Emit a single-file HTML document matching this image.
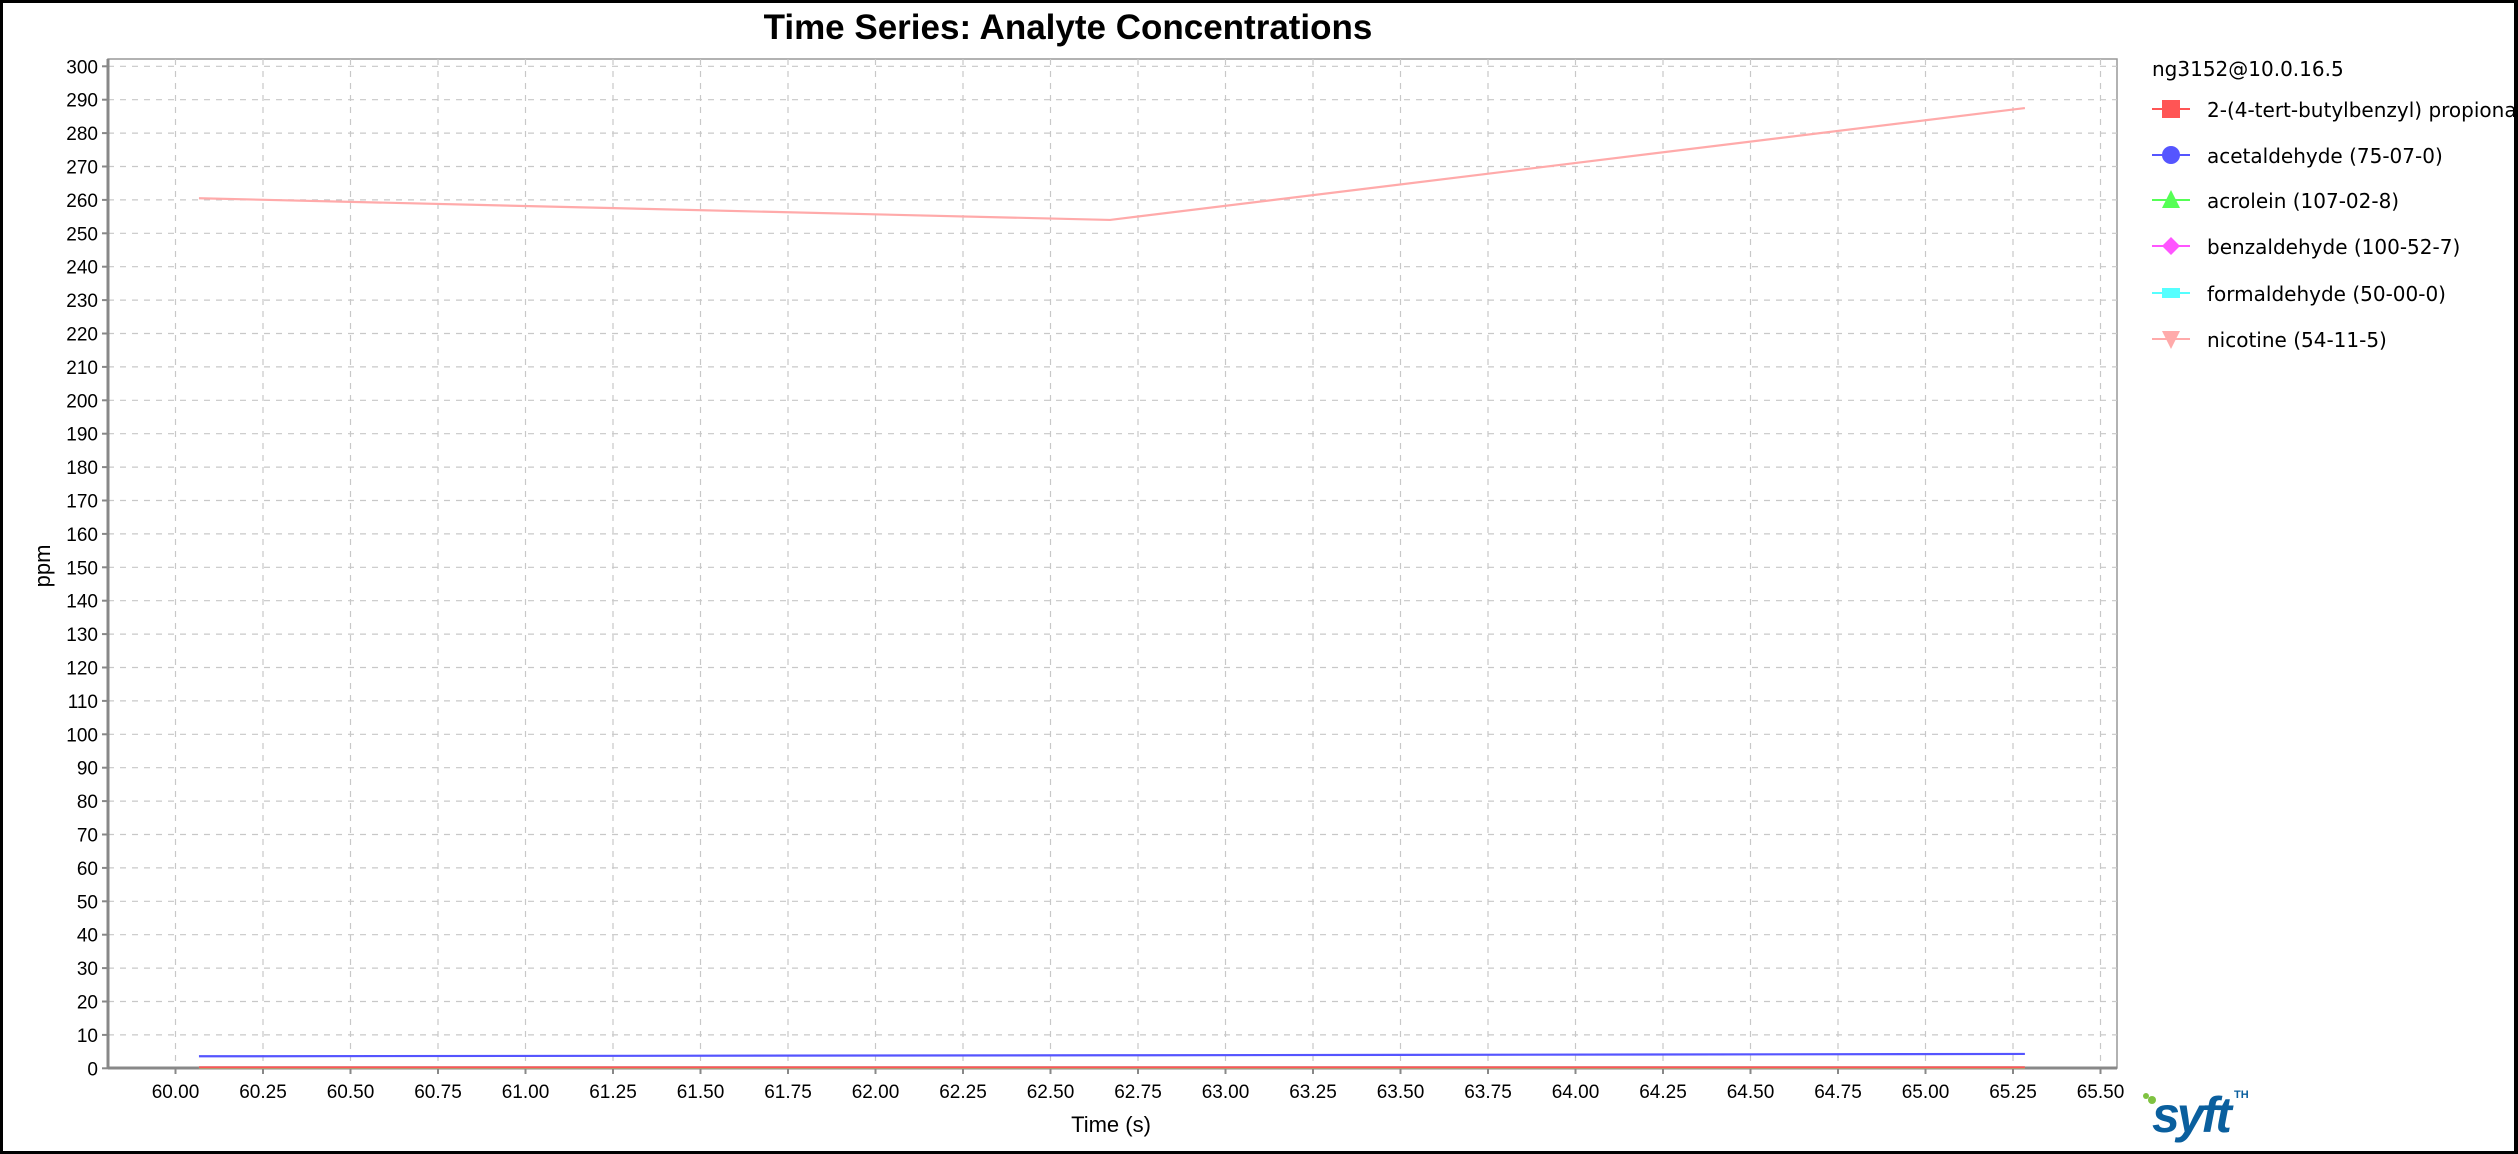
<!DOCTYPE html>
<html><head><meta charset="utf-8"><style>
html,body{margin:0;padding:0;background:#fff;}
svg{display:block;}
text{font-family:"Liberation Sans",sans-serif;}
.leg{font-family:"DejaVu Sans","Liberation Sans",sans-serif;font-size:20px;}
</style></head><body>
<svg id="chart" width="2518" height="1154" xmlns="http://www.w3.org/2000/svg">
<rect x="1.5" y="1.5" width="2514" height="1151" fill="#fff" stroke="#000" stroke-width="3"/>
<text x="1068" y="39" text-anchor="middle" font-size="35" font-weight="bold">Time Series: Analyte Concentrations</text>
<g id="grid"></g>
<g id="axes"></g>
<g id="series"></g>
<text x="0" y="0" transform="translate(50,566) rotate(-90)" text-anchor="middle" font-size="22">ppm</text>
<text x="1111" y="1132" text-anchor="middle" font-size="22">Time (s)</text>
<g id="legend">
<text class="leg" x="2152" y="76">ng3152@10.0.16.5</text>
</g>
<g>
<circle cx="2146" cy="1096" r="3" fill="#7fc241"/><circle cx="2152" cy="1100" r="4" fill="#7fc241"/>
<text x="2152" y="1132" font-size="50" font-weight="bold" font-style="italic" fill="#0a5f9e" letter-spacing="-3">syft</text>
<text x="2234" y="1098" font-size="11" font-weight="bold" fill="#0a5f9e">TH</text>
</g>
</svg>
<script>
const xTicks = [60.00,60.25,60.50,60.75,61.00,61.25,61.50,61.75,62.00,62.25,62.50,62.75,63.00,63.25,63.50,63.75,64.00,64.25,64.50,64.75,65.00,65.25,65.50];
const yTicks = [0,10,20,30,40,50,60,70,80,90,100,110,120,130,140,150,160,170,180,190,200,210,220,230,240,250,260,270,280,290,300];
const times = [60.067, 62.67, 65.284];
const seriesNames = ["2-(4-tert-butylbenzyl) propionaldehyde","acetaldehyde (75-07-0)","acrolein (107-02-8)","benzaldehyde (100-52-7)","formaldehyde (50-00-0)","nicotine (54-11-5)"];
const seriesColors = ["#ff5555","#5555ff","#55ff55","#ff55ff","#55ffff","#ffaaaa"];
const propionalValues = [0.3, 0.3, 0.3];
const acetaldehydeValues = [3.6, 3.9, 4.3];
const acroleinValues = [0.2, 0.2, 0.2];
const benzaldehydeValues = [0.2, 0.2, 0.2];
const formaldehydeValues = [0.3, 0.3, 0.3];
const nicotineValues = [260.5, 254.0, 287.5];
const allValues = [propionalValues, acetaldehydeValues, acroleinValues, benzaldehydeValues, formaldehydeValues, nicotineValues];

const L=108,T=59,R=2117,B=1068;
const NS="http://www.w3.org/2000/svg";
function xs(v){return 175.5+(v-60)*350;}
function ys(v){return 1068.3-v*3.34;}
function mk(tag,attrs,parent){const e=document.createElementNS(NS,tag);for(const k in attrs)e.setAttribute(k,attrs[k]);parent.appendChild(e);return e;}
const grid=document.getElementById('grid'),axes=document.getElementById('axes'),ser=document.getElementById('series'),leg=document.getElementById('legend');
mk('rect',{x:L,y:T,width:R-L,height:B-T,fill:'#fff',stroke:'#999','stroke-width':1.5},grid);
xTicks.forEach(t=>{const x=xs(t);
 const g=mk('line',{x1:x,y1:T,x2:x,y2:B,stroke:'#c8c8c8','stroke-dasharray':'6,6','stroke-width':1.2},grid);
 
 
 mk('line',{x1:x,y1:B,x2:x,y2:B+6,stroke:'#888','stroke-width':2},axes);
 const tx=mk('text',{x:x,y:B+30,'text-anchor':'middle','font-size':19},axes);tx.textContent=t.toFixed(2);
 
 
});
yTicks.forEach(t=>{const y=ys(t);
 const g=mk('line',{x1:L,y1:y,x2:R,y2:y,stroke:'#c8c8c8','stroke-dasharray':'6,6','stroke-width':1.2},grid);
 
 
 mk('line',{x1:L-6,y1:y,x2:L,y2:y,stroke:'#888','stroke-width':2},axes);
 const tx=mk('text',{x:L-10,y:y+7,'text-anchor':'end','font-size':19},axes);tx.textContent=t;
 
 
});
mk('line',{x1:L,y1:T,x2:L,y2:B,stroke:'#888','stroke-width':3},axes);
mk('line',{x1:L,y1:B,x2:R,y2:B,stroke:'#888','stroke-width':3},axes);
for(let i=allValues.length-1;i>=0;i--){
 const vals=allValues[i];
 const pts=vals.map((v,j)=>xs(times[j])+','+ys(v)).join(' ');
 const p=mk('polyline',{points:pts,fill:'none',stroke:seriesColors[i],'stroke-width':2.2},ser);
 
 
}
const legY=[109,155,200,246,293,339];
seriesNames.forEach((n,i)=>{const y=legY[i],c=seriesColors[i],cx=2171;
 const g=mk('g',{},leg);
 
 
 mk('line',{x1:2152,y1:y,x2:2190,y2:y,stroke:c,'stroke-width':2},g);
 if(i==0)mk('rect',{x:cx-9,y:y-9,width:18,height:18,fill:c},g);
 if(i==1)mk('circle',{cx:cx,cy:y,r:9,fill:c},g);
 if(i==2)mk('polygon',{points:`${cx},${y-10} ${cx+9},${y+8} ${cx-9},${y+8}`,fill:c},g);
 if(i==3)mk('polygon',{points:`${cx},${y-9} ${cx+9},${y} ${cx},${y+9} ${cx-9},${y}`,fill:c},g);
 if(i==4)mk('rect',{x:cx-9,y:y-5,width:18,height:10,fill:c},g);
 if(i==5)mk('polygon',{points:`${cx-9},${y-8} ${cx+9},${y-8} ${cx},${y+10}`,fill:c},g);
 const t=mk('text',{x:2207,y:y+8,class:'leg'},g);t.textContent=n;
});
mk('rect',{x:2514,y:0,width:4,height:1154,fill:'#000'},leg);
</script>
</body></html>
